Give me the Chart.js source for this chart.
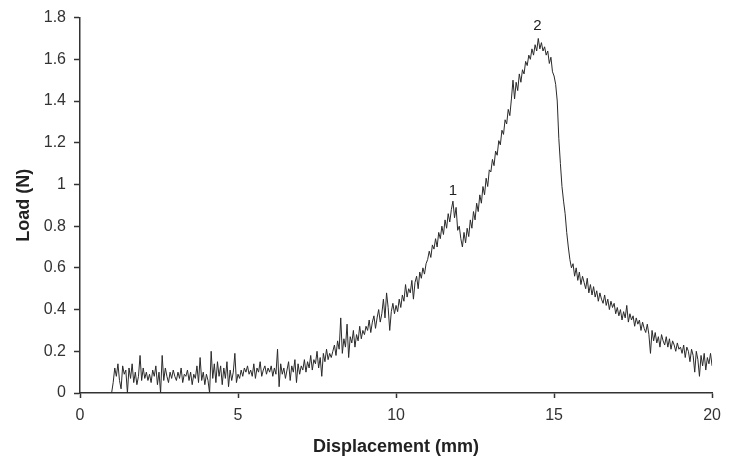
<!DOCTYPE html>
<html>
<head>
<meta charset="utf-8">
<script src="https://cdn.jsdelivr.net/npm/chart.js@4.4.0/dist/chart.umd.min.js"></script>
<style>
  html, body { margin: 0; padding: 0; background: #fff; }
  #wrap { width: 729px; height: 458px; position: relative; }
</style>
</head>
<body>
<div id="wrap"><canvas id="loadChart"></canvas></div>
<script>
/* ===============================
   DATA
================================= */

// the machine logs a reading every 0.05 mm, first one at 1 mm
const dispStart = 1.0;
const dispStep = 0.05;

// load (N), one line per mm of displacement
const load = [
  0.00, 0.05, 0.12, 0.08, 0.14, 0.06, 0.02, 0.13, 0.09, 0.11, 0.00, 0.12, 0.07, 0.14, 0.05, 0.10, 0.04, 0.08, 0.18, 0.06, // 1
  0.12, 0.07, 0.10, 0.06, 0.09, 0.05, 0.11, 0.08, 0.13, 0.04, 0.10, 0.00, 0.18, 0.06, 0.12, 0.08, 0.05, 0.10, 0.07, 0.11, // 2
  0.08, 0.06, 0.10, 0.07, 0.12, 0.05, 0.09, 0.08, 0.11, 0.06, 0.10, 0.04, 0.09, 0.07, 0.13, 0.05, 0.17, 0.06, 0.10, 0.04, // 3
  0.09, 0.06, 0.00, 0.20, 0.07, 0.14, 0.05, 0.15, 0.08, 0.13, 0.04, 0.12, 0.07, 0.15, 0.03, 0.11, 0.06, 0.10, 0.19, 0.05, // 4
  0.09, 0.07, 0.11, 0.08, 0.12, 0.10, 0.13, 0.09, 0.11, 0.08, 0.14, 0.07, 0.12, 0.10, 0.15, 0.08, 0.11, 0.13, 0.09, 0.12, // 5
  0.10, 0.13, 0.08, 0.12, 0.09, 0.21, 0.03, 0.14, 0.09, 0.12, 0.07, 0.11, 0.15, 0.06, 0.13, 0.10, 0.16, 0.05, 0.14, 0.09, // 6
  0.13, 0.11, 0.16, 0.10, 0.15, 0.12, 0.18, 0.11, 0.16, 0.14, 0.20, 0.12, 0.17, 0.08, 0.19, 0.15, 0.21, 0.16, 0.19, 0.17, // 7
  0.20, 0.23, 0.18, 0.25, 0.21, 0.36, 0.19, 0.26, 0.22, 0.33, 0.17, 0.27, 0.24, 0.30, 0.22, 0.28, 0.25, 0.32, 0.26, 0.30, // 8
  0.28, 0.32, 0.30, 0.35, 0.29, 0.34, 0.37, 0.31, 0.36, 0.40, 0.34, 0.38, 0.45, 0.36, 0.48, 0.41, 0.30, 0.39, 0.43, 0.38, // 9
  0.42, 0.39, 0.45, 0.41, 0.47, 0.44, 0.52, 0.46, 0.50, 0.48, 0.54, 0.45, 0.53, 0.56, 0.50, 0.58, 0.55, 0.60, 0.57, 0.62, // 10
  0.64, 0.68, 0.65, 0.71, 0.69, 0.74, 0.70, 0.77, 0.74, 0.80, 0.76, 0.83, 0.79, 0.86, 0.82, 0.88, 0.92, 0.84, 0.89, 0.78, // 11
  0.80, 0.74, 0.70, 0.77, 0.72, 0.79, 0.75, 0.83, 0.79, 0.87, 0.83, 0.91, 0.87, 0.95, 0.91, 0.99, 0.95, 1.03, 0.99, 1.07, // 12
  1.06, 1.12, 1.09, 1.16, 1.14, 1.21, 1.19, 1.26, 1.24, 1.31, 1.29, 1.36, 1.33, 1.41, 1.50, 1.41, 1.49, 1.45, 1.53, 1.49, // 13
  1.55, 1.53, 1.59, 1.57, 1.62, 1.60, 1.65, 1.62, 1.67, 1.64, 1.70, 1.65, 1.68, 1.64, 1.66, 1.62, 1.64, 1.58, 1.61, 1.54, // 14
  1.52, 1.48, 1.40, 1.22, 1.10, 0.99, 0.92, 0.86, 0.77, 0.70, 0.64, 0.60, 0.62, 0.56, 0.60, 0.54, 0.58, 0.52, 0.56, 0.53, // 15
  0.50, 0.55, 0.48, 0.52, 0.47, 0.51, 0.46, 0.49, 0.44, 0.48, 0.45, 0.43, 0.47, 0.42, 0.45, 0.40, 0.44, 0.41, 0.43, 0.38, // 16
  0.41, 0.37, 0.40, 0.35, 0.39, 0.36, 0.42, 0.34, 0.38, 0.35, 0.37, 0.32, 0.36, 0.33, 0.35, 0.30, 0.34, 0.31, 0.29, 0.33, // 17
  0.28, 0.19, 0.30, 0.25, 0.29, 0.24, 0.27, 0.22, 0.28, 0.25, 0.23, 0.27, 0.22, 0.26, 0.21, 0.25, 0.23, 0.20, 0.24, 0.21, // 18
  0.22, 0.19, 0.23, 0.17, 0.22, 0.20, 0.15, 0.21, 0.18, 0.10, 0.20, 0.16, 0.08, 0.18, 0.13, 0.19, 0.11, 0.17, 0.14, 0.19, // 19
  0.13 // 20
];

const xTicks = [0, 5, 10, 15, 20];
const yTicks = [0, 0.2, 0.4, 0.6, 0.8, 1, 1.2, 1.4, 1.6, 1.8];

// peak markers, in data units
const peakNames = ["1", "2"];
const peakDisp = [11.8, 14.47];
const peakLoad = [0.97, 1.76];

/* ===============================
   CHART
================================= */

const FONT = '"Liberation Sans", Arial, sans-serif';

const points = load.map((v, i) => ({ x: dispStart + i * dispStep, y: v }));

const peakLabels = {
  id: "peakLabels",
  afterDatasetsDraw(chart) {
    const { ctx, scales } = chart;
    ctx.save();
    ctx.font = "15px " + FONT;
    ctx.fillStyle = "#222";
    ctx.textAlign = "center";
    ctx.textBaseline = "middle";
    peakNames.forEach((name, i) => {
      ctx.fillText(
        name,
        scales.x.getPixelForValue(peakDisp[i]),
        scales.y.getPixelForValue(peakLoad[i])
      );
    });
    ctx.restore();
  }
};

const axisCommon = {
  grid: {
    drawOnChartArea: false,
    drawTicks: true,
    tickLength: 5,
    tickColor: "#333",
    tickWidth: 1.5
  },
  border: { display: true, color: "#333", width: 1.5 },
  ticks: {
    color: "#333",
    font: { family: FONT, size: 16 },
    padding: 8,
    maxRotation: 0,
    autoSkip: false
  }
};

new Chart(document.getElementById("loadChart"), {
  type: "line",
  data: {
    datasets: [{
      data: points,
      borderColor: "#2a2a2a",
      borderWidth: 1,
      pointRadius: 0,
      tension: 0,
      fill: false
    }]
  },
  options: {
    responsive: true,
    maintainAspectRatio: false,
    animation: false,
    layout: { padding: { top: 16, right: 11, bottom: 0, left: 0 } },
    plugins: {
      legend: { display: false },
      tooltip: { enabled: false }
    },
    scales: {
      x: {
        type: "linear",
        min: 0,
        max: 20,
        ...axisCommon,
        ticks: { ...axisCommon.ticks, callback: v => String(v) },
        afterBuildTicks: axis => { axis.ticks = xTicks.map(v => ({ value: v })); },
        afterFit: axis => { axis.height = 65; },
        title: {
          display: true,
          text: "Displacement (mm)",
          color: "#222",
          font: { family: FONT, size: 18, weight: "bold" },
          padding: { top: 0, bottom: 0 }
        }
      },
      y: {
        min: 0,
        max: 1.8,
        ...axisCommon,
        grid: { ...axisCommon.grid, tickLength: 6 },
        ticks: { ...axisCommon.ticks, callback: v => String(+v.toFixed(1)) },
        afterBuildTicks: axis => { axis.ticks = yTicks.map(v => ({ value: v })); },
        afterFit: axis => { axis.width = 80; },
        title: {
          display: true,
          text: "Load (N)",
          color: "#222",
          font: { family: FONT, size: 18, weight: "bold" },
          padding: { top: 13, bottom: 0 }
        }
      }
    }
  },
  plugins: [peakLabels]
});
</script>
</body>
</html>
